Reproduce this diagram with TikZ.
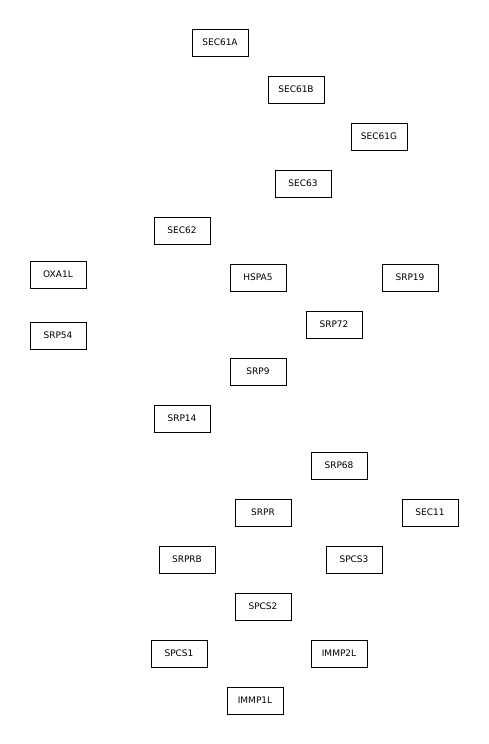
\documentclass[tikz,border=0pt]{standalone}
\usepackage{fontspec}
\setmainfont{DejaVu Sans}
\begin{document}
\begin{tikzpicture}[x=1pt,y=-1pt,
  gene/.style={draw=black,line width=0.9pt,minimum width=56pt,minimum height=27pt,inner sep=0pt,font=\fontsize{9}{10}\selectfont}]
\useasboundingbox (0,0) rectangle (488,744);
\fill[white] (0,0) rectangle (488,744);
\node[gene] (sec61a) at (220,42.5) {SEC61A};
\node[gene] (sec61b) at (296,89.5) {SEC61B};
\node[gene] (sec61g) at (379,136.5) {SEC61G};
\node[gene] (sec63) at (303,183.5) {SEC63};
\node[gene] (sec62) at (182,230.5) {SEC62};
\node[gene] (oxa1l) at (58,274.5) {OXA1L};
\node[gene] (hspa5) at (258,277.5) {HSPA5};
\node[gene] (srp19) at (410,277.5) {SRP19};
\node[gene] (srp72) at (334,324.5) {SRP72};
\node[gene] (srp54) at (58,335.5) {SRP54};
\node[gene] (srp9) at (258,371.5) {SRP9};
\node[gene] (srp14) at (182,418.5) {SRP14};
\node[gene] (srp68) at (339,465.5) {SRP68};
\node[gene] (srpr) at (263,512.5) {SRPR};
\node[gene] (sec11) at (430,512.5) {SEC11};
\node[gene] (srprb) at (187,559.5) {SRPRB};
\node[gene] (spcs3) at (354,559.5) {SPCS3};
\node[gene] (spcs2) at (263,606.5) {SPCS2};
\node[gene] (spcs1) at (179,653.5) {SPCS1};
\node[gene] (immp2l) at (339,653.5) {IMMP2L};
\node[gene] (immp1l) at (255,700.5) {IMMP1L};
\end{tikzpicture}
\end{document}
